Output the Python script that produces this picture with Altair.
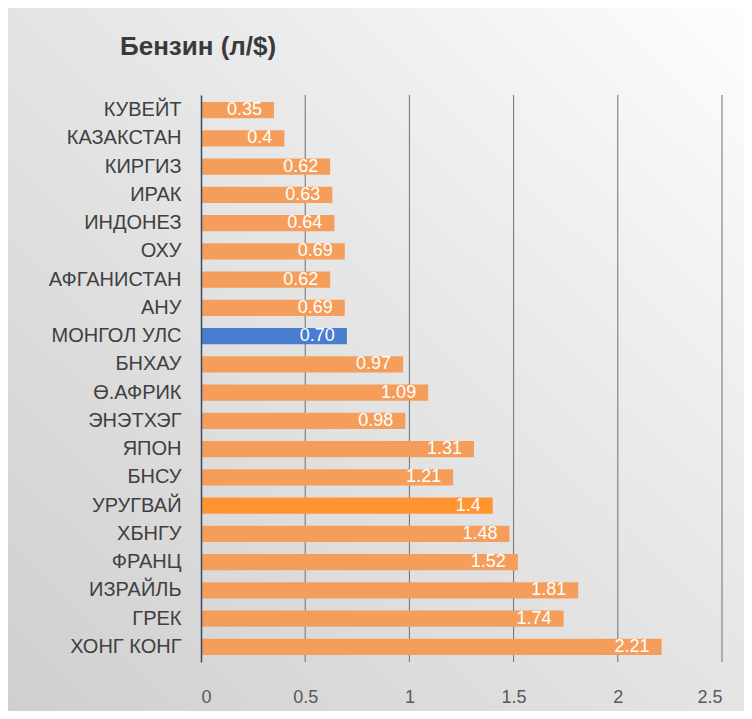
import altair as alt
import pandas as pd

countries = ["КУВЕЙТ", "КАЗАКСТАН", "КИРГИЗ", "ИРАК", "ИНДОНЕЗ", "ОХУ", "АФГАНИСТАН", "АНУ",
             "МОНГОЛ УЛС", "БНХАУ", "Ө.АФРИК", "ЭНЭТХЭГ", "ЯПОН", "БНСУ", "УРУГВАЙ", "ХБНГУ",
             "ФРАНЦ", "ИЗРАЙЛЬ", "ГРЕК", "ХОНГ КОНГ"]
values = [0.35, 0.4, 0.62, 0.63, 0.64, 0.69, 0.62, 0.69, 0.70, 0.97, 1.09, 0.98, 1.31, 1.21,
          1.4, 1.48, 1.52, 1.81, 1.74, 2.21]
labels = ["0.35", "0.4", "0.62", "0.63", "0.64", "0.69", "0.62", "0.69", "0.70", "0.97", "1.09",
          "0.98", "1.31", "1.21", "1.4", "1.48", "1.52", "1.81", "1.74", "2.21"]
grid_values = [0.5, 1.0, 1.5, 2.0, 2.5]
title_text = "Бензин (л/$)"

df = pd.DataFrame({"country": countries, "value": values, "label": labels})
grid_df = pd.DataFrame({"g": grid_values})

W, H = 521, 567
PL, PT, PR, PB = 193, 87, 22, 49

xscale = alt.Scale(domain=[0, 2.5], nice=False, zero=True)

one = pd.DataFrame({"a": [0]})

bg = alt.Chart(one).mark_rect(
    color=alt.Gradient(
        gradient="linear", x1=1, y1=0, x2=0, y2=1,
        stops=[alt.GradientStop(offset=0, color="#fdfdfd"),
               alt.GradientStop(offset=0.45, color="#e6e6e6"),
               alt.GradientStop(offset=1, color="#cfcfcf")]
    )
).encode(
    x=alt.value(-PL), x2=alt.value(W + PR),
    y=alt.value(-PT), y2=alt.value(H + PB + 8)
)

title = alt.Chart(one).mark_text(
    align="left", baseline="middle", fontSize=26, fontWeight="bold",
    font="Liberation Sans", color="#3a3a3a"
).encode(
    x=alt.value(-81), y=alt.value(-48), text=alt.value(title_text)
)

rules = alt.Chart(grid_df).mark_rule(color="#707070", strokeWidth=1).encode(
    x=alt.X("g:Q", scale=xscale),
    y=alt.value(0), y2=alt.value(H)
)

base = alt.Chart(df)

bars = base.mark_bar().encode(
    x=alt.X("value:Q", scale=xscale,
            axis=alt.Axis(values=[0, 0.5, 1, 1.5, 2, 2.5], format="~g", grid=False,
                          domain=False, ticks=False, labelFontSize=18, labelColor="#595959",
                          labelFont="Liberation Sans", labelPadding=26, zindex=1),
            title=None),
    y=alt.Y("country:N", sort=countries,
            scale=alt.Scale(paddingInner=0.43, paddingOuter=0.25),
            axis=alt.Axis(ticks=False, domain=True, domainColor="#3a4a66", domainWidth=1.5,
                          labelFontSize=20, labelColor="#404040", labelFont="Liberation Sans",
                          labelFontWeight="normal", labelPadding=20, zindex=1),
            title=None),
    color=alt.value("#F59E5B", condition=[
        {"test": "datum.country === 'МОНГОЛ УЛС'", "value": "#4A7CCF"},
        {"test": "datum.country === 'УРУГВАЙ'", "value": "#FF9430"},
    ]),
)

text = base.mark_text(align="right", baseline="middle", dx=-12, fontSize=18,
                      font="Liberation Sans", color="white").encode(
    x=alt.X("value:Q", scale=xscale),
    y=alt.Y("country:N", sort=countries),
    text="label:N",
)

chart = alt.layer(bg, title, rules, bars, text).properties(
    width=W, height=H,
    autosize=alt.AutoSizeParams(type="none"),
    padding={"left": PL, "top": PT, "right": PR, "bottom": PB},
).configure_view(stroke=None)

chart.save("out.html", embed_options={"renderer": "svg", "actions": False})
